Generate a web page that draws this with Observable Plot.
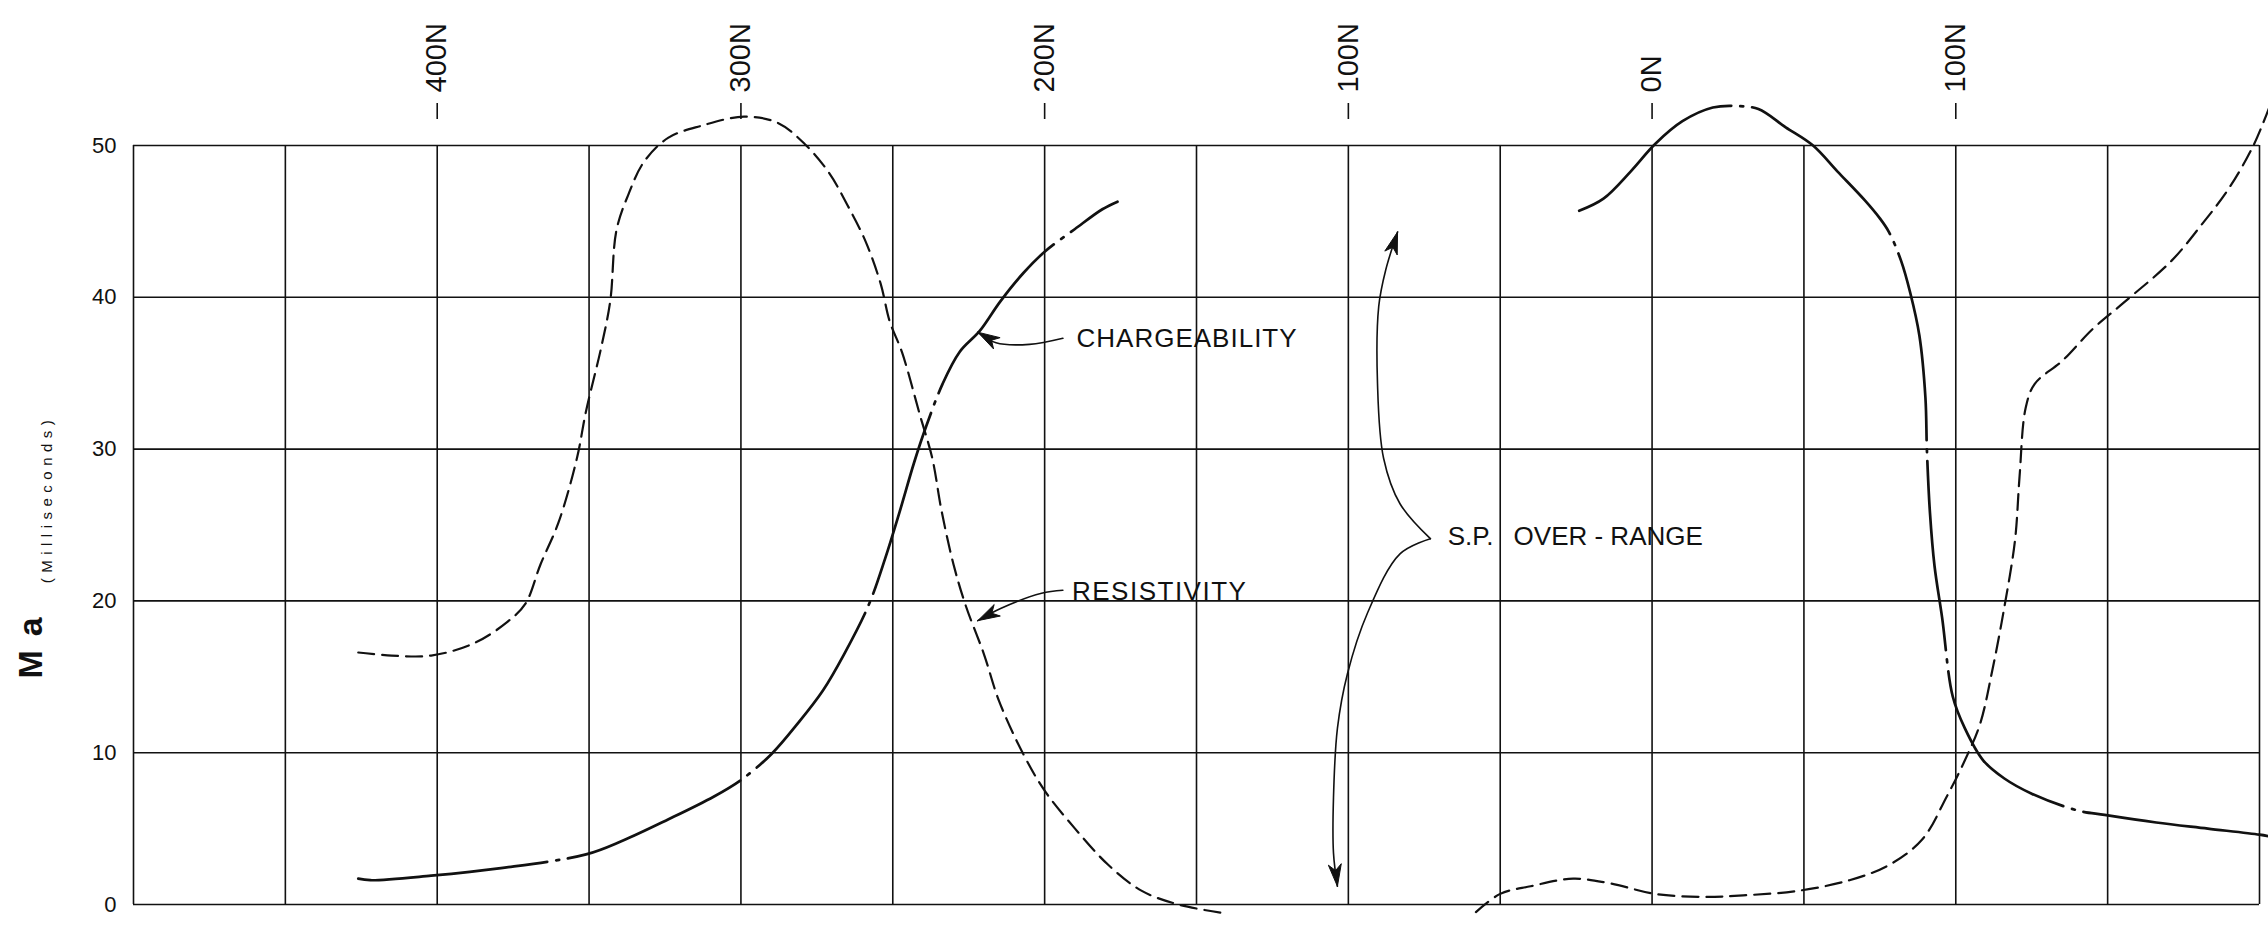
<!DOCTYPE html>
<html>
<head>
<meta charset="utf-8">
<script src="https://cdn.jsdelivr.net/npm/d3@7"></script>
<script src="https://cdn.jsdelivr.net/npm/@observablehq/plot@0.6"></script>
<style>
  html, body { margin: 0; padding: 0; background: #fff; }
  #chart svg { display: block; }
</style>
</head>
<body>
<div id="chart"></div>
<script>
// ---------- data ----------
// survey stations (N positive); left edge = 500N, right edge = 200 beyond 0N
const stationTicks  = [400, 300, 200, 100, 0, -100];
const stationLabels = ["400N", "300N", "200N", "100N", "0N", "100N"];
const gridStations  = [500, 450, 400, 350, 300, 250, 200, 150, 100, 50, 0, -50, -100, -150, -200];
const maTicks       = [0, 10, 20, 30, 40, 50];

// Resistivity (dashed) – western segment
const resWestStation = [426, 415, 402, 388, 377, 371, 366, 360, 354, 351, 346, 343, 341, 337, 332, 324, 313, 299, 288, 279, 271, 265, 259, 254, 251, 247, 241, 237, 234, 230, 226, 220, 215, 207, 200, 190, 179, 168, 156, 140];
const resWestMa      = [16.6, 16.4, 16.4, 17.2, 18.6, 19.8, 22.4, 25.2, 29.4, 32.5, 36.7, 39.8, 44.4, 46.8, 48.9, 50.5, 51.3, 51.9, 51.5, 50.1, 48.2, 46.1, 43.7, 40.9, 38.4, 36.4, 32.2, 29.4, 26.0, 22.4, 19.7, 16.5, 13.4, 9.9, 7.5, 5.0, 2.6, 0.9, 0.0, -0.6];
// Resistivity (dashed) – eastern segment
const resEastStation = [58, 50, 40, 26, 14, -1, -17, -30, -48, -65, -78, -89, -97, -103, -108, -112, -116, -119.5, -121, -123, -126, -135, -145, -155, -171, -181, -190, -198, -203];
const resEastMa      = [-0.5, 0.7, 1.2, 1.7, 1.4, 0.7, 0.5, 0.6, 0.9, 1.6, 2.6, 4.3, 7.1, 9.5, 11.9, 15.4, 19.6, 24.0, 28.2, 32.7, 34.3, 35.8, 37.9, 39.6, 42.4, 44.8, 47.2, 50.0, 52.4];

// Chargeability (solid / dash-dot) – western segment
const chgWestStation = [426, 422, 402, 379, 351, 339, 324, 309, 300, 290, 281, 273, 266, 258, 252.5, 247.7, 243, 239, 233.6, 228, 221.3, 214.7, 207, 200, 190, 181, 176];
const chgWestMa      = [1.7, 1.6, 1.9, 2.4, 3.3, 4.2, 5.6, 7.1, 8.2, 9.9, 12.0, 14.1, 16.5, 19.7, 22.8, 25.9, 29.1, 31.5, 34.3, 36.4, 37.8, 39.7, 41.6, 43.0, 44.5, 45.8, 46.3];
// Chargeability – eastern segment
const chgEastStation = [24, 16, 7, -1, -10, -20, -28, -35, -44, -53, -61, -70, -75, -78, -82, -85, -88, -90, -90.5, -91.5, -93, -95.5, -99, -103, -109, -116, -125, -140, -149, -166, -183, -200, -203];
const chgEastMa      = [45.7, 46.5, 48.3, 50.1, 51.6, 52.5, 52.6, 52.4, 51.2, 50.0, 48.3, 46.4, 45.2, 44.3, 42.4, 40.3, 37.5, 33.4, 29.9, 25.8, 22.3, 18.9, 13.7, 11.6, 9.5, 8.3, 7.3, 6.2, 5.9, 5.4, 5.0, 4.6, 4.5];

// Annotation labels and leader lines
const labelTexts    = ["CHARGEABILITY", "RESISTIVITY", "S.P.", "OVER - RANGE"];
const labelStations = [189.5, 191, 67.3, 45.6];
const labelMa       = [37.25, 20.6, 24.2, 24.2];

const chgArrowStation = [194, 205, 216, 222];
const chgArrowMa      = [37.3, 36.9, 37.0, 37.7];
const resArrowStation = [194, 201, 214.5, 222];
const resArrowMa      = [20.7, 20.5, 19.5, 18.7];
const spUpperStation  = [73, 83, 88.4, 90.4, 90.0, 87.7, 83.8];
const spUpperMa       = [24.1, 26.4, 29.4, 34.3, 39.4, 41.8, 44.3];
const spLowerStation  = [73, 83, 93.7, 100.3, 103.6, 104.9, 104.9, 103.6];
const spLowerMa       = [24.1, 23.1, 19.2, 15.2, 11.6, 7.0, 3.4, 1.2];

// ---------- layout ----------
const W = 2268, H = 928;
const mL = 133, mR = 9, mT = 145, mB = 24;
const xDomain = [500, -200], yDomain = [0, 50];

const zip = (s, m, id) => s.map((d, i) => ({station: d, ma: m[i], id}));

const resistivity = [...zip(resWestStation, resWestMa, "w"), ...zip(resEastStation, resEastMa, "e")];
const chargeability = [...zip(chgWestStation, chgWestMa, "w"), ...zip(chgEastStation, chgEastMa, "e")];
const labels = labelTexts.map((t, i) => ({text: t, station: labelStations[i], ma: labelMa[i]}));
const leaders = [
  ...zip(chgArrowStation, chgArrowMa, "chg"),
  ...zip(resArrowStation, resArrowMa, "res"),
  ...zip(spUpperStation, spUpperMa, "up"),
  ...zip(spLowerStation, spLowerMa, "low")
];

// arrowheads built from the last two points of each leader (same linear scales as Plot)
const xs = d3.scaleLinear(xDomain, [mL, W - mR]);
const ys = d3.scaleLinear(yDomain, [H - mB, mT]);
function head(stations, values, id) {
  const n = stations.length;
  const tx = xs(stations[n - 1]), ty = ys(values[n - 1]);
  const px = xs(stations[n - 2]), py = ys(values[n - 2]);
  let ux = tx - px, uy = ty - py;
  const len = Math.hypot(ux, uy); ux /= len; uy /= len;
  const nx = -uy, ny = ux, L = 22, Wd = 6.5;
  const pts = [
    [tx, ty],
    [tx - L * ux + Wd * nx, ty - L * uy + Wd * ny],
    [tx - 0.72 * L * ux, ty - 0.72 * L * uy],
    [tx - L * ux - Wd * nx, ty - L * uy - Wd * ny],
    [tx, ty]
  ];
  return pts.map(([a, b]) => ({station: xs.invert(a), ma: ys.invert(b), id}));
}
const heads = [
  ...head(chgArrowStation, chgArrowMa, "chg"),
  ...head(resArrowStation, resArrowMa, "res"),
  ...head(spUpperStation, spUpperMa, "up"),
  ...head(spLowerStation, spLowerMa, "low")
];

const labelMap = new Map(stationTicks.map((d, i) => [d, stationLabels[i]]));
const INK = "#111";
const FONT = "Liberation Sans, Arial, sans-serif";

const plot = Plot.plot({
  width: W,
  height: H,
  marginLeft: mL, marginRight: mR, marginTop: mT, marginBottom: mB,
  style: {fontFamily: FONT, background: "#fff", color: INK},
  x: {domain: xDomain, axis: null, label: null},
  y: {domain: yDomain, axis: null, label: null},
  marks: [
    // grid
    Plot.ruleX(gridStations, {stroke: INK, strokeWidth: 1.6}),
    Plot.ruleY(maTicks, {stroke: INK, strokeWidth: 1.6}),
    // top station axis
    Plot.axisX(stationTicks, {
      anchor: "top", label: null, tickSize: 16, tickPadding: 10, dy: -27,
      tickRotate: -90, tickFormat: d => labelMap.get(d),
      fontSize: 29, strokeWidth: 1.6, stroke: INK, fill: INK
    }),
    // left value axis
    Plot.axisY(maTicks, {anchor: "left", label: null, tickSize: 0, tickPadding: 17, fontSize: 22, fill: INK}),
    // y title
    Plot.text(["Ma"], {frameAnchor: "left", textAnchor: "middle", lineAnchor: "middle", dx: -102, dy: 116, rotate: -90, fontSize: 34, fontWeight: "bold", fill: INK}),
    Plot.text(["(Milliseconds)"], {frameAnchor: "left", textAnchor: "middle", lineAnchor: "middle", dx: -86, dy: -26, rotate: -90, fontSize: 15, fill: INK}),
    // series
    Plot.line(resistivity, {x: "station", y: "ma", z: "id", curve: "catmull-rom", stroke: INK, strokeWidth: 2.2, strokeDasharray: "16,8"}),
    Plot.line(chargeability, {x: "station", y: "ma", z: "id", curve: "catmull-rom", stroke: INK, strokeWidth: 2.7, strokeDasharray: "190,9,3,9"}),
    // annotations
    Plot.line(leaders, {x: "station", y: "ma", z: "id", curve: "catmull-rom", stroke: INK, strokeWidth: 1.6}),
    Plot.line(heads, {x: "station", y: "ma", z: "id", fill: INK, stroke: INK, strokeWidth: 1}),
    Plot.text(labels, {x: "station", y: "ma", text: "text", textAnchor: "start", lineAnchor: "middle", fontSize: 26, fill: INK})
  ]
});

const spacing = new Map([["Ma", "14px"], ["(Milliseconds)", "5.5px"], ["CHARGEABILITY", "1px"], ["RESISTIVITY", "1.5px"], ["S.P.", "0px"], ["OVER - RANGE", "0px"]]);
d3.select(plot).selectAll("text").each(function () {
  const t = this.textContent;
  if (spacing.has(t)) this.setAttribute("letter-spacing", spacing.get(t));
});

document.getElementById("chart").appendChild(plot);
</script>
</body>
</html>
